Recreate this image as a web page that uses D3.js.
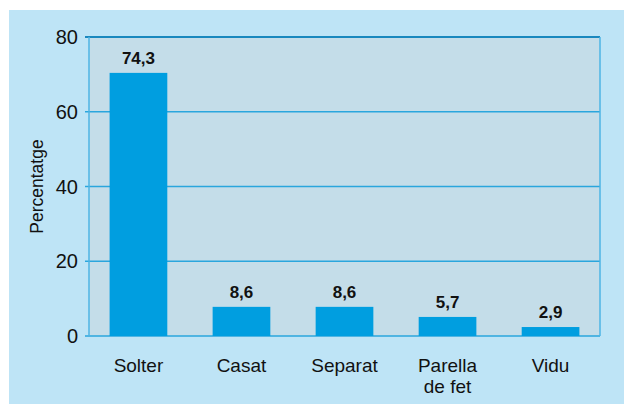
<!DOCTYPE html>
<html>
<head>
<meta charset="utf-8">
<script src="https://cdn.jsdelivr.net/npm/d3@7"></script>
<style>
body { margin:0; background:#fff; }
svg { display:block; }
text { font-family:"Liberation Sans", Arial, sans-serif; fill:#111; }
</style>
</head>
<body>
<div id="figure"></div>
<script>
var categories = [["Solter"], ["Casat"], ["Separat"], ["Parella", "de fet"], ["Vidu"]];
// printed labels
var labels = ["74,3", "8,6", "8,6", "5,7", "2,9"];
// bar heights as drawn in the picture
var barValues = [70.4, 7.8, 7.8, 5.1, 2.4];
var yTicks = [0, 20, 40, 60, 80];

var W = 624, H = 404;
var plotL = 89, plotR = 600, plotT = 37, plotB = 336;

var svg = d3.select("#figure").append("svg").attr("width", W).attr("height", H);

svg.append("rect").attr("x", 9).attr("y", 10).attr("width", W - 9).attr("height", H - 10)
	.attr("fill", "#bee4f6");

svg.append("rect").attr("x", plotL).attr("y", plotT).attr("width", plotR - plotL).attr("height", plotB - plotT)
	.attr("fill", "#c4dde9");

var x = d3.scaleBand().domain(d3.range(categories.length)).range([plotL, plotR])
	.paddingInner(0.44).paddingOuter(0.2);
var y = d3.scaleLinear().domain([0, 80]).range([plotB, plotT]);

// grid + ticks
svg.selectAll("line.grid")
	.data(yTicks)
	.enter()
	.append("line")
	.attr("class", "grid")
	.attr("x1", plotL - 4)
	.attr("x2", plotR)
	.attr("y1", function(d) { return y(d); })
	.attr("y2", function(d) { return y(d); })
	.attr("stroke", function(d) { return d == 80 ? "#1a88be" : "#2aa6dd"; })
	.attr("stroke-width", function(d) { return d == 80 ? 2 : 1.3; });

// side borders
svg.append("line").attr("x1", plotL).attr("x2", plotL).attr("y1", plotT).attr("y2", plotB)
	.attr("stroke", "#4db4e4").attr("stroke-width", 1.5);
svg.append("line").attr("x1", plotR).attr("x2", plotR).attr("y1", plotT).attr("y2", plotB)
	.attr("stroke", "#4db4e4").attr("stroke-width", 1.5);

svg.selectAll("text.ytick")
	.data(yTicks)
	.enter()
	.append("text")
	.attr("class", "ytick")
	.attr("x", 78)
	.attr("y", function(d) { return y(d) + 7; })
	.attr("text-anchor", "end")
	.attr("font-size", "20px")
	.text(function(d) { return d; });

svg.append("text")
	.attr("transform", "translate(43," + ((plotT + plotB) / 2) + ")rotate(-90)")
	.attr("text-anchor", "middle")
	.attr("font-size", "17.5px")
	.text("Percentatge");

svg.selectAll("rect.bar")
	.data(barValues)
	.enter()
	.append("rect")
	.attr("class", "bar")
	.attr("x", function(d, i) { return x(i); })
	.attr("y", function(d) { return y(d); })
	.attr("width", x.bandwidth())
	.attr("height", function(d) { return plotB - y(d); })
	.attr("fill", "#009ee0");

svg.selectAll("text.val")
	.data(barValues)
	.enter()
	.append("text")
	.attr("class", "val")
	.attr("x", function(d, i) { return x(i) + x.bandwidth() / 2; })
	.attr("y", function(d) { return y(d) - 9; })
	.attr("text-anchor", "middle")
	.attr("font-size", "17px")
	.attr("font-weight", "bold")
	.text(function(d, i) { return labels[i]; });

var cat = svg.selectAll("text.cat")
	.data(categories)
	.enter()
	.append("text")
	.attr("class", "cat")
	.attr("text-anchor", "middle")
	.attr("font-size", "19px")
	.attr("x", function(d, i) { return x(i) + x.bandwidth() / 2; })
	.attr("y", 372);
cat.selectAll("tspan")
	.data(function(d, i) { return d.map(function(s) { return [s, i]; }); })
	.enter()
	.append("tspan")
	.attr("x", function(d) { return x(d[1]) + x.bandwidth() / 2; })
	.attr("dy", function(d, j) { return j == 0 ? 0 : 21; })
	.text(function(d) { return d[0]; });
</script>
</body>
</html>
